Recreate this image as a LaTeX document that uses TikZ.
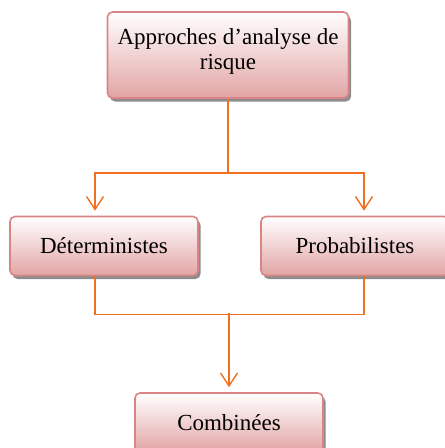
\documentclass[tikz,border=0pt]{standalone}
\usepackage{fontspec}
\setmainfont{Liberation Serif}
\usetikzlibrary{arrows.meta,shadows,calc}
\definecolor{boxline}{RGB}{217,133,133}
\definecolor{boxfill}{RGB}{226,164,164}
\definecolor{link}{RGB}{240,112,32}
\begin{document}
\begin{tikzpicture}[x=1pt,y=-1pt,
	approche/.style={draw=boxline,line width=1.6pt,rounded corners=5pt,
		top color=white,bottom color=boxfill,
		general shadow={fill=black!45,shadow xshift=2.5pt,shadow yshift=-3.5pt},
		minimum width=188pt,minimum height=59pt,align=center,
		font=\fontsize{23}{25}\selectfont},
	lien/.style={draw=link,line width=1.4pt},
	fleche/.style={lien,-{Straight Barb[length=13pt,width=17pt,line width=1.4pt]},shorten >=5pt}]
	\useasboundingbox (0,0) rectangle (445,448);
	\clip (0,0) rectangle (445,448);
	
	\node[approche,minimum width=241pt,minimum height=86pt](app) at (228,55) {};
	\node[font=\fontsize{23}{25}\selectfont,align=center](apptxt) at (228,51) {Approches d'analyse de\\risque};
	\node[approche](det) at (104,246) {D\'eterministes};
	\node[approche](prob) at (355,246) {Probabilistes};
	\node[approche](comb) at (229,422.5) {Combin\'ees};
	
	\draw[lien](app.south)--(228,173)coordinate(haut);
	\draw[fleche](haut)-|([xshift=-9pt]det.north);
	\draw[fleche](haut)-|([xshift=9pt]prob.north);
	\draw[lien]([xshift=-9pt]det.south)--++(0,38)-|([xshift=9pt]prob.south);
	\coordinate(bas) at (229,313);
	\draw[fleche](bas)--(comb.north);
	
\end{tikzpicture}
\end{document}
